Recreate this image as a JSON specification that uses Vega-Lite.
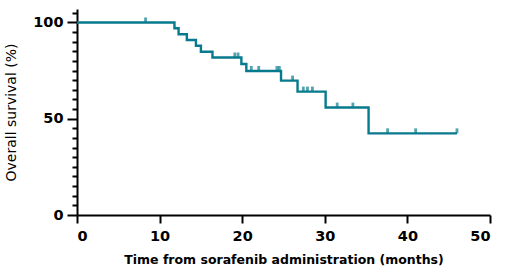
{
  "$schema": "https://vega.github.io/schema/vega-lite/v6.json",
  "autosize": {"type": "none"},
  "padding": {"left": 77, "top": 9, "right": 15, "bottom": 53},
  "width": 413,
  "height": 206,
  "background": "white",
  "config": {"view": {"stroke": null}, "font": "DejaVu Sans"},
  "datasets": {
    "curve": [
      {"time": 0, "surv": 100},
      {"time": 11.8, "surv": 97.0},
      {"time": 12.3, "surv": 93.9},
      {"time": 13.3, "surv": 90.9},
      {"time": 14.4, "surv": 87.9},
      {"time": 15.0, "surv": 84.8},
      {"time": 16.4, "surv": 81.8},
      {"time": 19.9, "surv": 78.4},
      {"time": 20.5, "surv": 74.8},
      {"time": 24.7, "surv": 69.8},
      {"time": 26.7, "surv": 64.1},
      {"time": 30.1, "surv": 55.8},
      {"time": 35.3, "surv": 42.4},
      {"time": 46.0, "surv": 42.4}
    ],
    "censor": [
      {"time": 8.3, "surv": 100},
      {"time": 19.1, "surv": 81.8},
      {"time": 19.5, "surv": 81.8},
      {"time": 21.1, "surv": 74.8},
      {"time": 22.0, "surv": 74.8},
      {"time": 24.2, "surv": 74.8},
      {"time": 24.5, "surv": 74.8},
      {"time": 26.1, "surv": 69.8},
      {"time": 27.4, "surv": 64.1},
      {"time": 27.9, "surv": 64.1},
      {"time": 28.5, "surv": 64.1},
      {"time": 31.5, "surv": 55.8},
      {"time": 33.4, "surv": 55.8},
      {"time": 37.6, "surv": 42.4},
      {"time": 41.0, "surv": 42.4},
      {"time": 46.0, "surv": 42.4}
    ]
  },
  "encoding": {
    "x": {
      "field": "time", "type": "quantitative",
      "scale": {"domain": [0, 50], "nice": false},
      "axis": {
        "values": [0, 10, 20, 30, 40, 50],
        "title": "Time from sorafenib administration (months)",
        "titleFontSize": 12.5, "titleFontWeight": "bold", "titleColor": "black", "titlePadding": 11,
        "labelFontSize": 14.5, "labelFontWeight": "bold", "labelColor": "black", "labelPadding": 6,
        "tickSize": 8, "tickWidth": 2, "tickColor": "black", "labelOverlap": false,
        "domainColor": "black", "domainWidth": 2, "grid": false
      }
    },
    "y": {
      "field": "surv", "type": "quantitative",
      "scale": {"domain": [0, 107], "nice": false},
      "axis": {
        "values": [0, 5, 10, 15, 20, 25, 30, 35, 40, 45, 50, 55, 60, 65, 70, 75, 80, 85, 90, 95, 100, 105],
        "labelExpr": "datum.value % 50 === 0 ? datum.label : ''",
        "labelOverlap": false,
        "title": "Overall survival (%)",
        "titleFontSize": 14, "titleFontWeight": "normal", "titleColor": "black", "titlePadding": 14,
        "labelFontSize": 14.5, "labelFontWeight": "bold", "labelColor": "black", "labelPadding": 4,
        "tickSize": {"condition": {"test": "datum.value % 50 === 0", "value": 10}, "value": 5},
        "tickWidth": 2, "tickColor": "black",
        "domainColor": "black", "domainWidth": 2, "grid": false
      }
    }
  },
  "layer": [
    {
      "data": {"name": "curve"},
      "mark": {"type": "line", "interpolate": "step-after", "color": "#087A8E", "strokeWidth": 2.4}
    },
    {
      "data": {"name": "censor"},
      "mark": {"type": "tick", "orient": "vertical", "color": "#087A8E", "size": 5, "thickness": 2.8, "yOffset": -2.5}
    }
  ]
}
